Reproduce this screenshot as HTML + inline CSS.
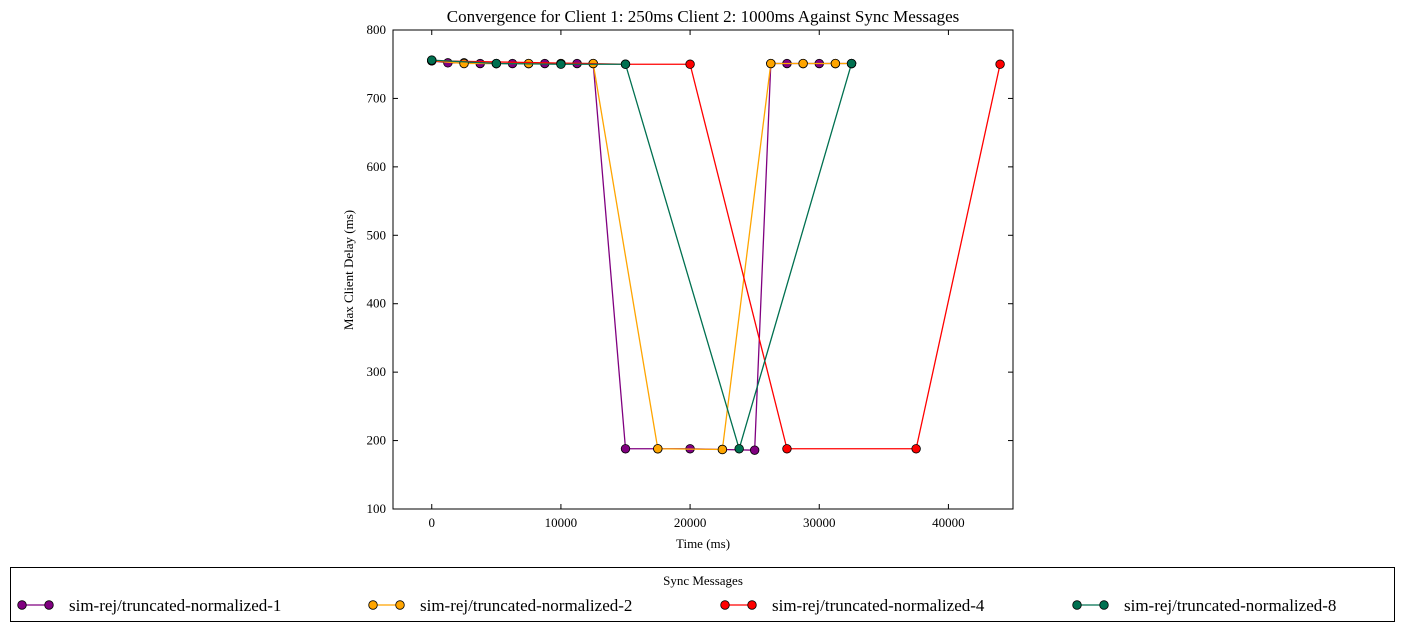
<!DOCTYPE html>
<html><head><meta charset="utf-8"><style>
body{margin:0;background:#fff;}
svg text{font-family:"Liberation Serif",serif;fill:#000;}
</style></head><body>
<svg width="1405" height="632" id="chart">
<rect x="0" y="0" width="1405" height="632" fill="#fff"/>
<text x="703" y="22" font-size="17" text-anchor="middle">Convergence for Client 1: 250ms Client 2: 1000ms Against Sync Messages</text>
<g id="axes"></g>
<g id="series"></g>
<rect x="393" y="30" width="620" height="479" fill="none" stroke="#000" stroke-width="1"/>
<text x="703" y="548" font-size="13" text-anchor="middle">Time (ms)</text>
<text x="0" y="0" font-size="13" text-anchor="middle" transform="translate(353,270) rotate(-90)">Max Client Delay (ms)</text>
<g>
<rect x="10.5" y="567.5" width="1384" height="54" fill="#fff" stroke="#000" stroke-width="1"/>
<text x="703" y="585" font-size="13" text-anchor="middle">Sync Messages</text>
<g id="legend-entries"></g>
</g>
</svg>
<script>
const xTicks=[0,10000,20000,30000,40000];
const yTicks=[100,200,300,400,500,600,700,800];
const seriesNames=["sim-rej/truncated-normalized-1","sim-rej/truncated-normalized-2","sim-rej/truncated-normalized-4","sim-rej/truncated-normalized-8"];
const colors=["#800080","#FFA500","#FF0000","#007050"];
const purpleX=[0,1250,2500,3750,5000,6250,7500,8750,10000,11250,12500,15000,17500,20000,22500,25000,26250,27500,28750,30000,31250,32500];
const purpleY=[755,752,752,751,751,751,751,751,751,751,751,188,188,188,187,186,751,751,751,751,751,751];
const orangeX=[0,2500,5000,7500,10000,12500,17500,22500,26250,28750,31250,32500];
const orangeY=[755,751,751,751,751,751,188,187,751,751,751,751];
const redX=[0,15000,20000,27500,37500,44000];
const redY=[755,750,750,188,188,750];
const greenX=[0,5000,10000,15000,23800,32500];
const greenY=[756,751,750,750,188,751];
const allX=[purpleX,orangeX,redX,greenX], allY=[purpleY,orangeY,redY,greenY];
const NS="http://www.w3.org/2000/svg";
const L=393,R=1013,T=30,B=509,xMin=-3000,xMax=45000,yMin=100,yMax=800;
const sx=v=>L+(v-xMin)/(xMax-xMin)*(R-L);
const sy=v=>B-(v-yMin)/(yMax-yMin)*(B-T);
function mk(t,a){const e=document.createElementNS(NS,t);for(const k in a)e.setAttribute(k,a[k]);return e;}
const ax=document.getElementById('axes');
xTicks.forEach(v=>{const x=sx(v);
 let l=mk('line',{x1:x,x2:x,y1:B,y2:B-5,stroke:'#000'});
 
 ax.appendChild(l);
 let l2=mk('line',{x1:x,x2:x,y1:T,y2:T+5,stroke:'#000'});
 
 ax.appendChild(l2);
 let t=mk('text',{x:x,y:B+18,'font-size':13,'text-anchor':'middle'});t.textContent=v;
 
 ax.appendChild(t);});
yTicks.forEach(v=>{const y=sy(v);
 let l=mk('line',{x1:L,x2:L+5,y1:y,y2:y,stroke:'#000'});
 
 ax.appendChild(l);
 let l2=mk('line',{x1:R,x2:R-5,y1:y,y2:y,stroke:'#000'});
 
 ax.appendChild(l2);
 let t=mk('text',{x:L-7,y:y+4,'font-size':13,'text-anchor':'end'});t.textContent=v;
 
 ax.appendChild(t);});
const sg=document.getElementById('series');
allX.forEach((xs,i)=>{const g=mk('g',{});
 
 
 const pts=xs.map((x,j)=>sx(x)+','+sy(allY[i][j])).join(' ');
 const pl=mk('polyline',{points:pts,fill:'none',stroke:colors[i],'stroke-width':1.3});
 
 g.appendChild(pl);
 xs.forEach((x,j)=>{const c=mk('circle',{cx:sx(x),cy:sy(allY[i][j]),r:4.3,fill:colors[i],stroke:'#000','stroke-width':0.8});
  
  g.appendChild(c);});
 sg.appendChild(g);});
const lg=document.getElementById('legend-entries');
const lx=[22,373,725,1077];
seriesNames.forEach((n,i)=>{const g=mk('g',{});
 
 
 const y=605,x=lx[i];
 g.appendChild(mk('line',{x1:x,x2:x+27,y1:y,y2:y,stroke:colors[i],'stroke-width':1.3}));
 g.appendChild(mk('circle',{cx:x,cy:y,r:4.3,fill:colors[i],stroke:'#000','stroke-width':0.8}));
 g.appendChild(mk('circle',{cx:x+27,cy:y,r:4.3,fill:colors[i],stroke:'#000','stroke-width':0.8}));
 const t=mk('text',{x:x+47,y:y+6,'font-size':17});t.textContent=n;g.appendChild(t);
 lg.appendChild(g);});
</script>
</body></html>
